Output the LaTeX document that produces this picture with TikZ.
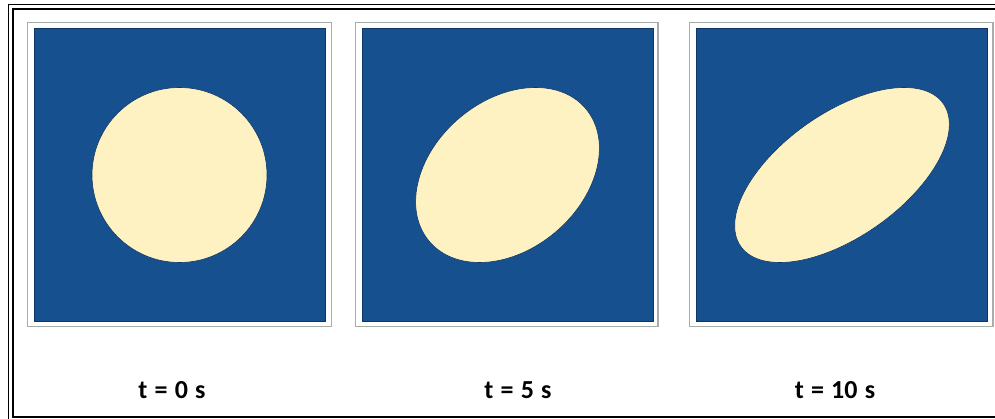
\documentclass[tikz,border=0pt]{standalone}
\usepackage{fontspec}
\setmainfont{Carlito}
\definecolor{panelblue}{HTML}{16508F}
\definecolor{edgeblue}{HTML}{0E3768}
\definecolor{cream}{HTML}{FFF2C2}
\definecolor{framegray}{HTML}{A7ADA7}
\newcommand{\gapsp}{\hspace{7.2pt}}
\tikzset{
  outerframe/.style={draw=black, line width=1.6pt},
  panelframe/.style={draw=framegray, line width=1.3pt, fill=white},
  panelfill/.style={fill=panelblue, draw=edgeblue, line width=0.8pt},
  blob/.style={fill=cream, draw=edgeblue, line width=0.6pt},
  timelabel/.style={font=\fontsize{26}{26}\selectfont\bfseries, inner sep=0pt, anchor=base}
}
\begin{document}
\begin{tikzpicture}[x=1pt,y=-1pt]
\useasboundingbox (0,0) rectangle (995,419);
\clip (0,0) rectangle (995,419);
% outer double frame (cropped at right and bottom)
\draw[outerframe] (8.5,4.5) rectangle (1003,424);
\draw[outerframe] (12.8,8.8) rectangle (999,417);
% panel 1
\draw[panelframe] (27.5,22.5) rectangle (331.5,326.5);
\draw[panelfill] (34,28.5) rectangle (325,321);
\fill[blob] (179.5,175) circle[radius=87.5];
% panel 2
\draw[panelframe] (355.5,22.5) rectangle (658,326.5);
\draw[panelfill] (362,28.5) rectangle (653,321);
\begin{scope}[shift={(507.5,175)}, cm={1,0,0.32,1,(0,0)}]
  \draw[blob] (0,0) circle[radius=87.5];
\end{scope}
% panel 3
\draw[panelframe] (689.5,22.5) rectangle (993,326.5);
\draw[panelfill] (696,28.5) rectangle (987,321);
\begin{scope}[shift={(842,175)}, cm={1,0,0.71,1,(0,0)}]
  \draw[blob] (0,0) circle[radius=87.5];
\end{scope}
% labels
\node[timelabel] (l0) at (172,398.5) {t\gapsp=\gapsp0\gapsp s};
\node[timelabel] (l5) at (518,398.5) {t\gapsp=\gapsp5\gapsp s};
\node[timelabel] (l10) at (835,398.5) {t\gapsp=\gapsp10\gapsp s};
\end{tikzpicture}
\end{document}
